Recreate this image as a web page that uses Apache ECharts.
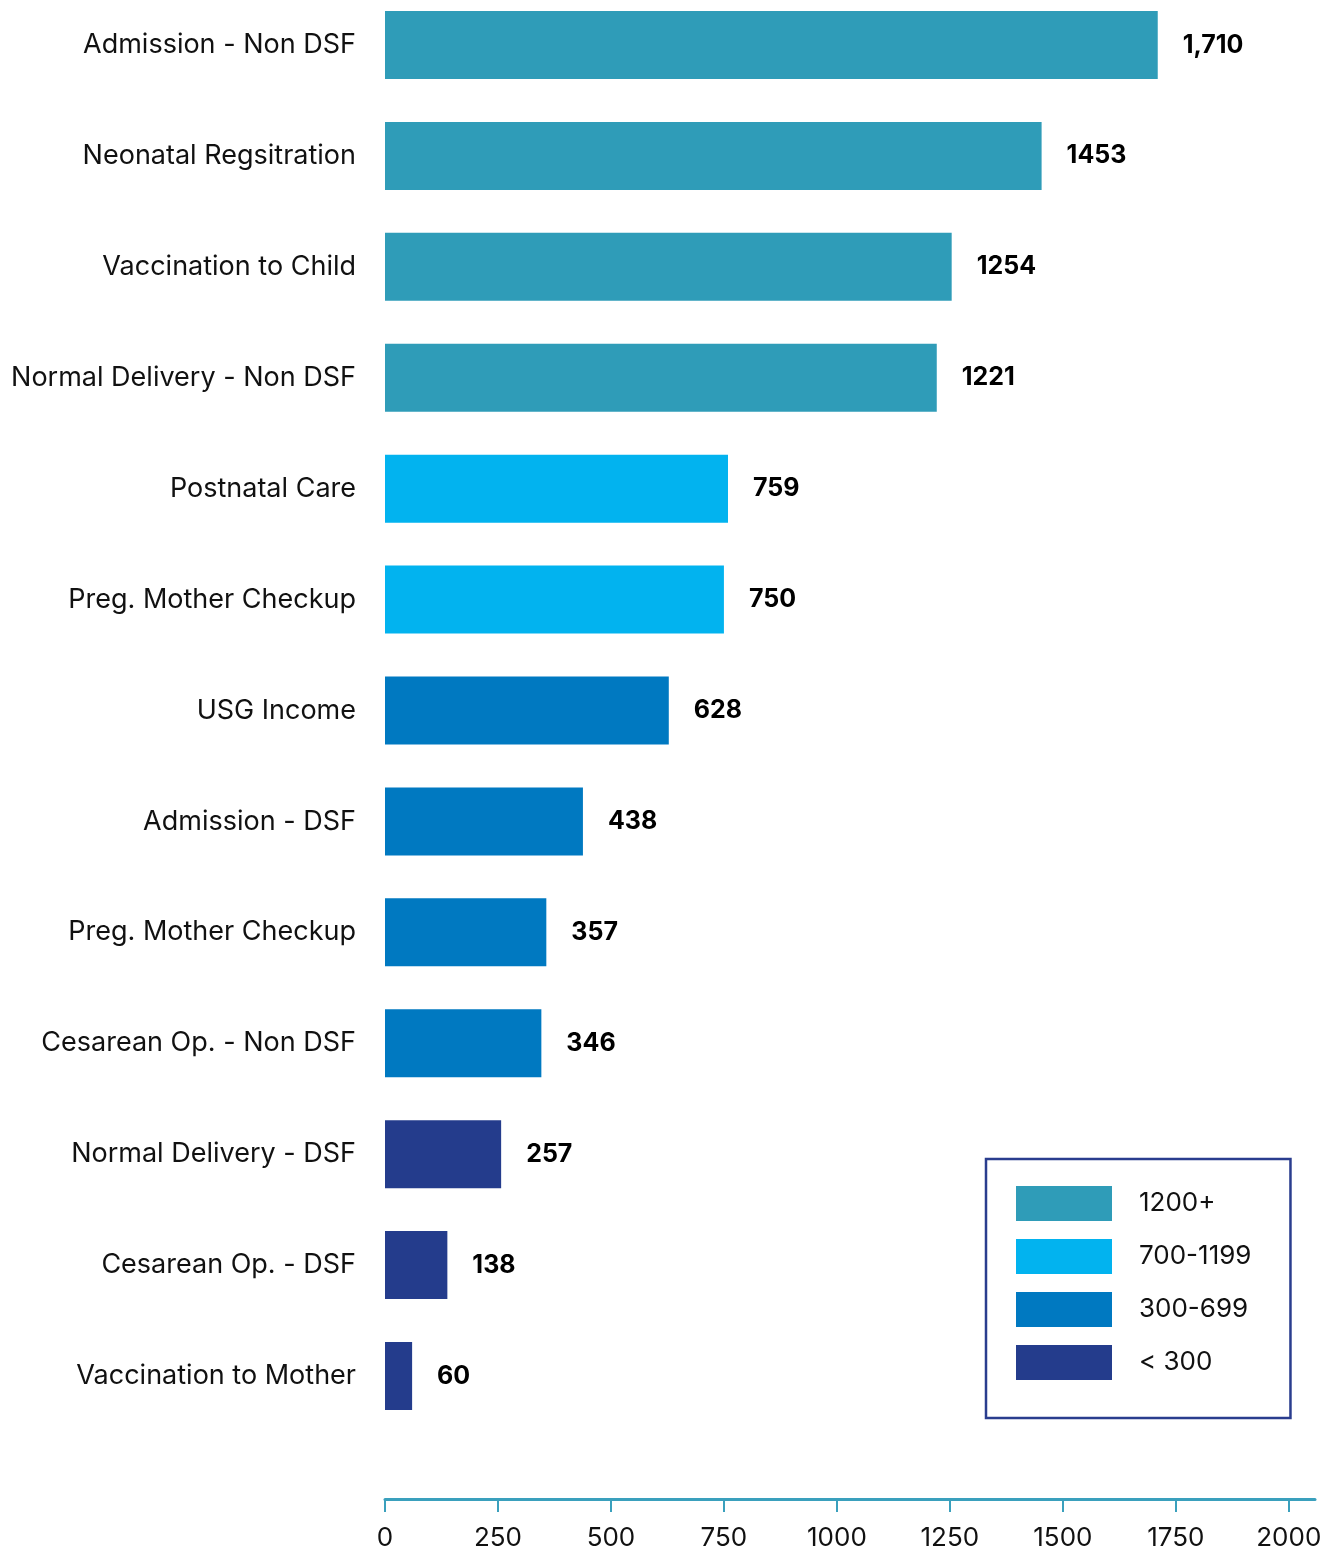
<!DOCTYPE html>
<html>
<head>
    <meta charset="utf-8">
    <script src="https://cdn.jsdelivr.net/npm/echarts@6.0.0/dist/echarts.min.js"></script>
    <style>
        html, body { margin: 0; padding: 0; background: #fff; }
    </style>
</head>
<body>
    <div id="main" style="width: 1334px;height:1549px;"></div>
    <script type="text/javascript">
        var myChart = echarts.init(document.getElementById('main'));

        // 数据
        var categories = ['Admission - Non DSF', 'Neonatal Regsitration', 'Vaccination to Child',
            'Normal Delivery - Non DSF', 'Postnatal Care', 'Preg. Mother Checkup', 'USG Income',
            'Admission - DSF', 'Preg. Mother Checkup', 'Cesarean Op. - Non DSF',
            'Normal Delivery - DSF', 'Cesarean Op. - DSF', 'Vaccination to Mother']
        var values = [1710, 1453, 1254, 1221, 759, 750, 628, 438, 357, 346, 257, 138, 60]
        var valueText = ['1,710', '1453', '1254', '1221', '759', '750', '628', '438', '357', '346', '257', '138', '60']
        var tickValues = [0, 250, 500, 750, 1000, 1250, 1500, 1750, 2000]

        // 分组（图例）
        var groupNames = ['1200+', '700-1199', '300-699', '< 300']
        var groupMin = [1200, 700, 300, 0]
        var groupMax = [Infinity, 1200, 700, 300]
        var groupColors = ['#2f9cb8', '#02b3ef', '#0079c1', '#243c8c']

        var fontFamily = 'Inter, "Open Sans", sans-serif'

        var series = groupNames.map(function (name, g) {
            return {
                name: name,
                type: 'bar',
                stack: 'all',
                barWidth: 68,
                itemStyle: { color: groupColors[g] },
                label: {
                    show: true,
                    position: 'right',
                    distance: 25,
                    color: '#000',
                    fontWeight: 'bold',
                    fontSize: 25,
                    fontFamily: fontFamily,
                    formatter: function (p) {
                        return valueText[p.dataIndex]
                    }
                },
                data: values.map(function (v) {
                    return (v >= groupMin[g] && v < groupMax[g]) ? v : '-'
                })
            }
        })

        var option = {
            animation: false,
            backgroundColor: '#fff',
            grid: {
                left: 385,
                top: 45,
                width: 930,
                height: 1331,
                containLabel: false,
                outerBoundsMode: 'none'
            },
            legend: {
                orient: 'vertical',
                left: 986,
                top: 1159,
                backgroundColor: '#fff',
                borderColor: '#2a3d8e',
                borderWidth: 2.5,
                borderRadius: 0,
                padding: [27, 39, 38, 30],
                itemWidth: 96,
                itemHeight: 35,
                itemGap: 18,
                icon: 'rect',
                textStyle: {
                    fontSize: 26,
                    color: '#111',
                    fontFamily: fontFamily,
                    padding: [0, 0, 0, 22]
                },
                data: groupNames
            },
            xAxis: {
                type: 'value',
                min: 0,
                max: 2058,
                offset: 123,
                splitLine: { show: false },
                axisLine: {
                    show: true,
                    lineStyle: { color: '#3aa0bd', width: 3 }
                },
                axisTick: {
                    show: true,
                    length: 13,
                    customValues: tickValues,
                    lineStyle: { color: '#3aa0bd', width: 2 }
                },
                axisLabel: {
                    customValues: tickValues,
                    margin: 26,
                    fontSize: 26,
                    color: '#111',
                    fontFamily: fontFamily,
                    formatter: function (v) { return String(v) }
                }
            },
            yAxis: {
                type: 'category',
                inverse: true,
                boundaryGap: false,
                data: categories,
                axisLine: { show: false },
                axisTick: { show: false },
                axisLabel: {
                    margin: 29,
                    fontSize: 27,
                    color: '#111',
                    fontFamily: fontFamily
                }
            },
            series: series
        }

        myChart.setOption(option);
    </script>
</body>
</html>
